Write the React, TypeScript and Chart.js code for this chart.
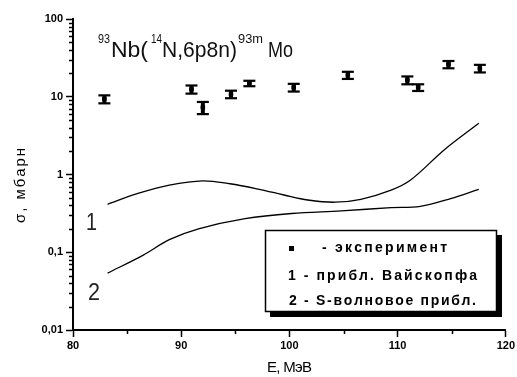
import React, { useEffect, useRef } from 'react';
import { Chart, registerables } from 'chart.js';

Chart.register(...registerables);

// Experimental points (E, MeV ; sigma, mb ; error, mb)
const expE = [82.9, 90.95, 92.0, 94.6, 96.3, 100.4, 105.4, 110.9, 111.9, 114.7, 117.6];
const expSigma = [9.35, 12.5, 7.3, 10.8, 14.9, 13.2, 19.0, 16.4, 13.2, 26.1, 23.2];
const expErr = [1.1, 1.5, 1.3, 1.2, 1.2, 1.5, 2.0, 1.9, 1.3, 2.8, 2.6];

// Curve 1 - Weisskopf approximation
const weisE = [83.2, 86.0, 88.9, 92.0, 94.5, 97.2, 99.5, 101.7, 104.2, 106.6, 109.4, 111.2, 114.3, 117.5];
const weisSigma = [0.414, 0.57, 0.73, 0.83, 0.76, 0.645, 0.545, 0.47, 0.44, 0.48, 0.63, 0.85, 2.07, 4.55];

// Curve 2 - S-wave approximation
const swaveE = [83.2, 86.5, 88.9, 91.6, 95.9, 100.2, 104.8, 109.4, 112.1, 114.9, 117.5];
const swaveSigma = [0.054, 0.092, 0.145, 0.2, 0.27, 0.315, 0.34, 0.375, 0.39, 0.49, 0.645];

const xTicks = [80, 90, 100, 110, 120];
const xMinorTicks = [85, 95, 105, 115];
const yTicks = [0.01, 0.1, 1, 10, 100];
const yTickLabels = ['0,01', '0,1', '1', '10', '100'];

const FONT = '"Liberation Sans", Arial, sans-serif';

function drawSpaced(ctx: CanvasRenderingContext2D, text: string, x: number, y: number, width: number) {
  const chars = Array.from(text);
  const widths = chars.map((c) => ctx.measureText(c).width);
  const total = widths.reduce((a, b) => a + b, 0);
  const extra = chars.length > 1 ? (width - total) / (chars.length - 1) : 0;
  let cx = x;
  chars.forEach((c, i) => {
    ctx.fillText(c, cx, y);
    cx += widths[i] + extra;
  });
}

function drawScaled(ctx: CanvasRenderingContext2D, text: string, x: number, y: number, width: number) {
  const w = ctx.measureText(text).width;
  ctx.save();
  ctx.translate(x, y);
  ctx.scale(width / w, 1);
  ctx.fillText(text, 0, 0);
  ctx.restore();
}

const decorPlugin = {
  id: 'decor',
  afterDraw(chart: any) {
    const ctx: CanvasRenderingContext2D = chart.ctx;
    const xs = chart.scales.x;
    const ys = chart.scales.y;
    const area = chart.chartArea;
    ctx.save();
    ctx.strokeStyle = '#000';
    ctx.fillStyle = '#000';

    // minor ticks
    ctx.lineWidth = 1.5;
    ctx.beginPath();
    xMinorTicks.forEach((v) => {
      const px = Math.round(xs.getPixelForValue(v)) + 0.5;
      ctx.moveTo(px, area.bottom);
      ctx.lineTo(px, area.bottom + 4);
    });
    for (let k = 0; k < yTicks.length - 1; k++) {
      for (let m = 2; m <= 9; m++) {
        const py = Math.round(ys.getPixelForValue(yTicks[k] * m)) + 0.5;
        ctx.moveTo(area.left - 4, py);
        ctx.lineTo(area.left, py);
      }
    }
    ctx.stroke();

    // error bars
    expE.forEach((e, i) => {
      const px = xs.getPixelForValue(e);
      const yt = ys.getPixelForValue(expSigma[i] + expErr[i]);
      const yb = ys.getPixelForValue(expSigma[i] - expErr[i]);
      ctx.fillRect(px - 2, yt, 4, yb - yt);
      ctx.fillRect(px - 6, yt - 1, 12, 2.2);
      ctx.fillRect(px - 6, yb - 1, 12, 2.2);
    });

    // title
    ctx.fillStyle = '#111';
    ctx.textBaseline = 'alphabetic';
    ctx.textAlign = 'left';
    const sup = `13px ${FONT}`;
    const main = `22px ${FONT}`;
    ctx.font = sup; drawScaled(ctx, '93', 98, 43, 12);
    ctx.font = main; drawScaled(ctx, 'Nb(', 111, 57, 37);
    ctx.font = sup; drawScaled(ctx, '14', 151, 43, 11);
    ctx.font = main; drawScaled(ctx, 'N,6p8n)', 162, 57, 75);
    ctx.font = sup; drawScaled(ctx, '93m', 238, 43, 25);
    ctx.font = main; drawScaled(ctx, 'Mo', 268, 57, 25);

    // curve labels
    ctx.font = `23px ${FONT}`;
    ctx.fillStyle = '#222';
    drawScaled(ctx, '1', 86, 230, 11);
    drawScaled(ctx, '2', 88, 300, 12);

    // axis titles
    ctx.fillStyle = '#000';
    ctx.font = `15px ${FONT}`;
    ctx.textBaseline = 'middle';
    drawSpaced(ctx, 'E, МэВ', 267, 368, 45);
    ctx.save();
    ctx.translate(21, 223);
    ctx.rotate(-Math.PI / 2);
    drawSpaced(ctx, 'σ, мбарн', 0, 0, 75);
    ctx.restore();

    // legend
    ctx.fillStyle = '#000';
    ctx.fillRect(270, 235, 232, 82);
    ctx.fillStyle = '#fff';
    ctx.fillRect(265, 230, 232, 82);
    ctx.lineWidth = 1.5;
    ctx.strokeStyle = '#000';
    ctx.strokeRect(265.5, 230.5, 231, 81);
    ctx.fillStyle = '#000';
    ctx.fillRect(289, 246, 5, 5);
    ctx.font = `bold 14px ${FONT}`;
    ctx.textBaseline = 'middle';
    drawSpaced(ctx, '- эксперимент', 322, 248, 125);
    drawSpaced(ctx, '1 - прибл. Вайскопфа', 288, 276, 189);
    drawSpaced(ctx, '2 - S-волновое прибл.', 289, 301, 187);

    ctx.restore();
  },
};

export default function App() {
  const canvasRef = useRef<HTMLCanvasElement | null>(null);

  useEffect(() => {
    document.body.style.margin = '0';
    const canvas = canvasRef.current;
    if (!canvas) return;
    const chart = new Chart(canvas, {
      type: 'line',
      data: {
        datasets: [
          {
            type: 'scatter',
            label: 'эксперимент',
            data: expE.map((x, i) => ({ x, y: expSigma[i] })),
            pointStyle: 'rect',
            pointRadius: 2.5,
            backgroundColor: '#000',
            borderColor: '#000',
            showLine: false,
          } as any,
          {
            label: 'прибл. Вайскопфа',
            data: weisE.map((x, i) => ({ x, y: weisSigma[i] })),
            borderColor: '#000',
            borderWidth: 1.3,
            pointRadius: 0,
            fill: false,
            tension: 0.35,
          },
          {
            label: 'S-волновое прибл.',
            data: swaveE.map((x, i) => ({ x, y: swaveSigma[i] })),
            borderColor: '#000',
            borderWidth: 1.3,
            pointRadius: 0,
            fill: false,
            tension: 0.35,
          },
        ],
      },
      options: {
        animation: false,
        responsive: false,
        devicePixelRatio: 1,
        layout: { padding: { top: 19, right: 8, left: 0, bottom: 0 } },
        plugins: { legend: { display: false }, tooltip: { enabled: false } },
        scales: {
          x: {
            type: 'linear',
            min: 80,
            max: 120,
            afterBuildTicks: (s: any) => {
              s.ticks = xTicks.map((v) => ({ value: v }));
            },
            afterFit: (s: any) => {
              s.height = 47;
            },
            ticks: {
              color: '#000',
              font: { family: FONT, size: 11, weight: 'bold' },
              padding: 2,
              maxRotation: 0,
              callback: (v: any) => String(v),
            },
            grid: {
              display: true,
              drawOnChartArea: false,
              drawTicks: true,
              tickLength: 7,
              tickWidth: 1.5,
              tickColor: '#000',
            },
            border: { display: true, color: '#000', width: 2 },
          },
          y: {
            type: 'logarithmic',
            min: 0.01,
            max: 100,
            afterBuildTicks: (s: any) => {
              s.ticks = yTicks.map((v) => ({ value: v }));
            },
            afterFit: (s: any) => {
              s.width = 73;
            },
            ticks: {
              color: '#000',
              font: { family: FONT, size: 11, weight: 'bold' },
              padding: 3,
              callback: (_v: any, i: number) => yTickLabels[i],
            },
            grid: {
              display: true,
              drawOnChartArea: false,
              drawTicks: true,
              tickLength: 7,
              tickWidth: 1.5,
              tickColor: '#000',
            },
            border: { display: true, color: '#000', width: 2 },
          },
        },
      } as any,
      plugins: [decorPlugin],
    });
    return () => chart.destroy();
  }, []);

  return (
    <div style={{ width: 517, height: 377, position: 'relative', background: '#fff' }}>
      <canvas ref={canvasRef} width={517} height={377} style={{ display: 'block' }} />
    </div>
  );
}
